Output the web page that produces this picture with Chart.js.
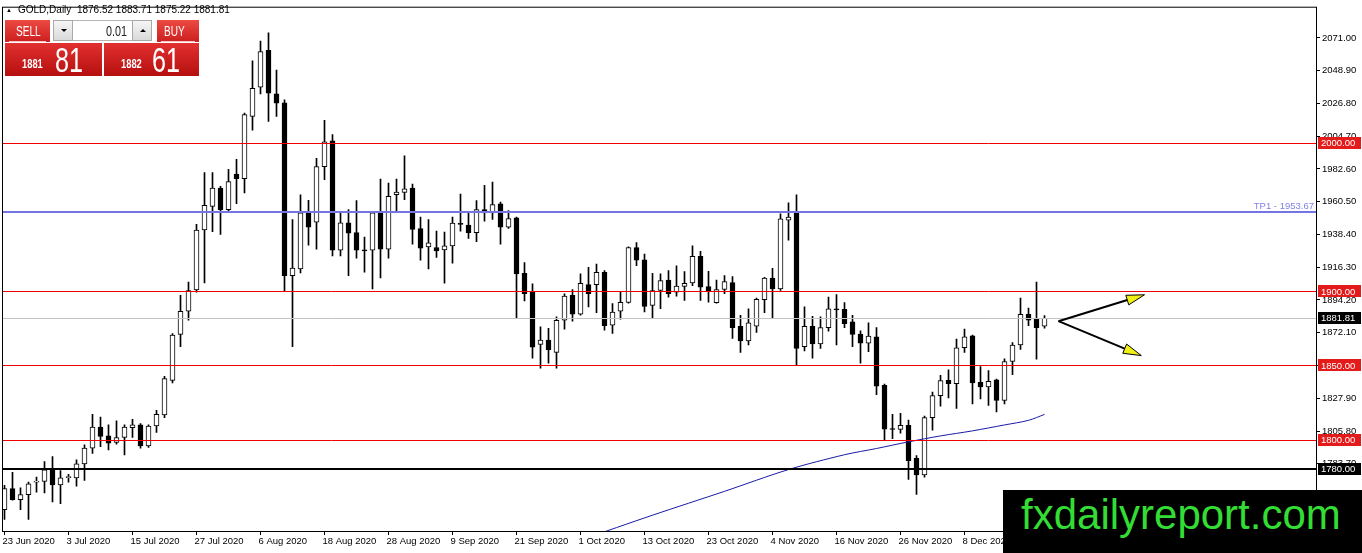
<!DOCTYPE html>
<html>
<head>
<meta charset="utf-8">
<title>GOLD, Daily</title>
<script src="https://cdn.jsdelivr.net/npm/chart.js@4.4.0/dist/chart.umd.min.js"></script>
<style>
  html, body { margin: 0; padding: 0; background: #fff; }
  #wrap { position: relative; width: 1362px; height: 553px; overflow: hidden; font-family: 'Liberation Sans', Arial, sans-serif; }
  #wrap canvas { position: absolute; left: 0; top: 0; }
  .abs { position: absolute; white-space: pre; }
  .tri { left: 6px; top: 7px; font-size: 6px; line-height: 6px; }
  .hdr { left: 18px; top: 5px; font-size: 10px; line-height: 10px; color: #000; }
  .red1 { background: linear-gradient(#ec4a42, #cc1f1f); }
  .red2 { background: linear-gradient(#e23030, #b50f0f); }
  .cond { transform: scaleX(0.72); transform-origin: left top; color: #fff; }
  .sep { position: absolute; left: 4px; right: 4px; bottom: 0; height: 1px; background: rgba(255,225,225,0.85); }
  .gbtn { background: linear-gradient(#f6f6f6, #d9d9d9); border: 1px solid #a9a9a9; box-sizing: border-box; }
  .arrDn { position: absolute; left: 7px; top: 8px; width: 0; height: 0; border-left: 3px solid transparent; border-right: 3px solid transparent; border-top: 3px solid #000; }
  .arrUp { position: absolute; left: 7px; top: 8px; width: 0; height: 0; border-left: 3px solid transparent; border-right: 3px solid transparent; border-bottom: 3px solid #000; }
  #mark { left: 1003px; top: 490px; width: 359px; height: 63px; background: #000; }
  #mark span { position: absolute; left: 18px; top: 4px; font-size: 42px; line-height: 42px; color: #33dd33; }
</style>
</head>
<body>
<div id="wrap">
  <canvas id="myChart" width="1362" height="553"></canvas>

  <div class="abs tri">&#9650;</div>
  <div class="abs hdr">GOLD,Daily  1876.52 1883.71 1875.22 1881.81</div>

  <div class="abs red1" style="left:5px;top:20px;width:45px;height:22px;">
    <span class="abs cond" style="left:11px;top:4px;font-size:14px;line-height:14px;">SELL</span>
    <div class="sep"></div>
  </div>
  <div class="abs" style="left:53px;top:20px;width:99px;height:21px;background:#fff;border:1px solid #b5b5b5;box-sizing:border-box;"></div>
  <div class="abs gbtn" style="left:53px;top:20px;width:20px;height:21px;"><div class="arrDn"></div></div>
  <span class="abs cond" style="left:106px;top:24px;font-size:14px;line-height:14px;color:#222;transform:scaleX(0.77);">0.01</span>
  <div class="abs gbtn" style="left:132px;top:20px;width:20px;height:21px;"><div class="arrUp"></div></div>
  <div class="abs red1" style="left:157px;top:20px;width:42px;height:22px;">
    <span class="abs cond" style="left:7px;top:4px;font-size:14px;line-height:14px;">BUY</span>
    <div class="sep"></div>
  </div>

  <div class="abs red2" style="left:5px;top:43px;width:97px;height:33px;">
    <span class="abs cond" style="left:17px;top:14px;font-size:13px;line-height:13px;font-weight:bold;">1881</span>
    <span class="abs cond" style="left:50px;top:-1px;font-size:35px;line-height:35px;">81</span>
  </div>
  <div class="abs red2" style="left:104px;top:43px;width:95px;height:33px;">
    <span class="abs cond" style="left:17px;top:14px;font-size:13px;line-height:13px;font-weight:bold;">1882</span>
    <span class="abs cond" style="left:48px;top:-1px;font-size:35px;line-height:35px;">61</span>
  </div>

  <div id="mark" class="abs"><span>fxdailyreport.com</span></div>
</div>

<script>
// daily candles, 23 Jun 2020 .. 22 Dec 2020 (one entry per bar)
const opens = [
  1752.8, 1766.9, 1759.5, 1762.9, 1771.3, 1771.8, 1779.6, 1769.5, 1774.4, 1774.2,
  1783.6, 1794.3, 1808.5, 1802.5, 1798.1, 1801.4, 1808.1, 1809.9, 1795.8, 1809.2,
  1816.6, 1840.0, 1871.0, 1886.6, 1901.0, 1941.4, 1957.4, 1969.7, 1955.2, 1979.1,
  1976.0, 2018.1, 2037.7, 2062.6, 2033.2, 2027.2, 1910.6, 1915.1, 1953.0, 1946.7,
  1984.2, 2001.6, 1927.8, 1946.3, 1939.6, 1928.0, 1927.8, 1953.0, 1928.5, 1965.2,
  1966.8, 1969.7, 1942.3, 1930.0, 1929.6, 1928.0, 1930.7, 1945.4, 1944.7, 1939.6,
  1955.2, 1953.0, 1959.0, 1943.4, 1949.6, 1912.2, 1899.9, 1864.3, 1867.2, 1858.9,
  1880.5, 1897.3, 1884.6, 1904.6, 1904.6, 1912.9, 1877.2, 1886.6, 1892.6, 1929.6,
  1921.3, 1890.6, 1900.6, 1907.7, 1899.5, 1903.3, 1905.7, 1923.6, 1903.3, 1892.4,
  1901.3, 1905.9, 1876.5, 1866.5, 1876.5, 1894.4, 1908.9, 1901.7, 1948.1, 1953.7,
  1862.7, 1876.5, 1864.5, 1875.6, 1887.9, 1887.9, 1879.4, 1871.2, 1865.0, 1869.4,
  1836.6, 1807.2, 1806.8, 1809.7, 1787.6, 1776.2, 1814.8, 1829.7, 1840.0, 1837.7,
  1862.0, 1870.1, 1838.6, 1835.5, 1840.4, 1826.4, 1852.7, 1863.8, 1884.6, 1881.7,
  1876.52
];
const highs = [
  1769.1, 1778.0, 1767.5, 1771.3, 1774.7, 1785.1, 1788.5, 1779.1, 1776.5, 1786.3,
  1796.5, 1817.0, 1815.2, 1809.9, 1812.6, 1809.9, 1813.7, 1810.8, 1809.9, 1819.7,
  1842.7, 1871.6, 1897.3, 1906.2, 1945.2, 1980.2, 1980.2, 1970.8, 1982.4, 1989.1,
  2020.3, 2055.5, 2068.9, 2074.5, 2049.3, 2029.2, 1948.5, 1965.2, 1961.4, 1989.8,
  2015.4, 2005.8, 1953.4, 1955.2, 1961.2, 1936.7, 1953.6, 1975.7, 1973.0, 1975.7,
  1991.5, 1972.4, 1950.1, 1948.5, 1940.7, 1940.0, 1950.1, 1965.7, 1953.0, 1961.2,
  1971.5, 1973.7, 1960.3, 1954.5, 1950.1, 1919.5, 1905.1, 1876.1, 1875.0, 1882.8,
  1898.4, 1901.3, 1911.8, 1916.2, 1918.4, 1914.0, 1891.7, 1899.5, 1930.0, 1932.9,
  1925.1, 1912.2, 1911.8, 1914.0, 1917.3, 1913.3, 1930.7, 1927.0, 1913.5, 1907.7,
  1910.6, 1910.0, 1883.9, 1888.3, 1895.5, 1909.5, 1915.5, 1952.3, 1959.7, 1965.2,
  1889.5, 1883.2, 1882.8, 1896.1, 1897.9, 1892.4, 1883.9, 1873.4, 1878.8, 1875.6,
  1837.5, 1817.0, 1817.7, 1813.2, 1789.2, 1815.9, 1832.0, 1843.3, 1847.1, 1867.8,
  1874.5, 1870.5, 1849.3, 1846.6, 1840.9, 1854.5, 1865.4, 1895.5, 1888.8, 1906.2,
  1883.71
];
const lows = [
  1746.2, 1759.1, 1752.8, 1746.2, 1764.6, 1764.0, 1758.0, 1756.8, 1771.3, 1768.6,
  1772.4, 1790.7, 1795.2, 1793.0, 1797.0, 1789.6, 1801.4, 1794.3, 1794.7, 1804.8,
  1814.8, 1838.2, 1862.7, 1880.5, 1899.5, 1905.7, 1940.3, 1938.5, 1954.1, 1959.2,
  1966.4, 2008.7, 2033.2, 2014.7, 2018.1, 1899.9, 1862.7, 1912.4, 1931.1, 1928.5,
  1975.3, 1924.0, 1924.0, 1910.6, 1922.4, 1912.9, 1901.7, 1909.1, 1922.4, 1954.1,
  1961.9, 1931.8, 1921.1, 1915.1, 1922.9, 1905.5, 1919.1, 1940.7, 1935.8, 1933.6,
  1947.4, 1948.5, 1931.8, 1942.5, 1881.6, 1893.5, 1854.9, 1848.2, 1851.6, 1848.2,
  1874.5, 1879.9, 1883.9, 1889.5, 1885.7, 1873.9, 1871.6, 1881.2, 1892.1, 1917.3,
  1886.1, 1881.6, 1888.3, 1896.1, 1896.8, 1893.9, 1903.9, 1893.9, 1892.8, 1892.1,
  1898.4, 1868.3, 1858.9, 1863.8, 1872.3, 1885.7, 1881.7, 1900.6, 1934.5, 1850.0,
  1859.8, 1854.9, 1861.6, 1873.2, 1863.8, 1875.6, 1862.7, 1851.6, 1859.4, 1830.4,
  1799.6, 1800.7, 1804.3, 1773.1, 1763.1, 1774.7, 1806.3, 1822.6, 1828.2, 1821.0,
  1858.9, 1824.1, 1827.5, 1823.0, 1818.6, 1824.1, 1843.8, 1860.9, 1876.8, 1854.2,
  1875.22
];
const closes = [
  1766.9, 1759.5, 1762.9, 1770.2, 1772.0, 1779.6, 1769.5, 1774.2, 1774.9, 1783.6,
  1794.3, 1808.5, 1802.1, 1797.6, 1801.4, 1808.5, 1809.9, 1795.8, 1809.2, 1817.0,
  1841.1, 1870.5, 1886.6, 1900.6, 1941.4, 1958.1, 1969.7, 1955.2, 1974.1, 1976.0,
  2019.2, 2037.0, 2061.8, 2033.7, 2027.0, 1910.6, 1915.8, 1953.0, 1943.4, 1984.2,
  2000.9, 1927.8, 1946.3, 1939.2, 1927.8, 1927.3, 1953.0, 1928.5, 1964.1, 1967.0,
  1969.2, 1941.8, 1929.1, 1932.7, 1927.3, 1930.7, 1946.1, 1945.2, 1939.6, 1955.2,
  1953.0, 1958.5, 1943.4, 1949.2, 1911.7, 1898.4, 1862.3, 1867.2, 1860.5, 1880.5,
  1896.8, 1884.6, 1905.5, 1898.4, 1912.9, 1876.8, 1886.1, 1892.6, 1929.6, 1921.1,
  1889.9, 1900.6, 1907.3, 1898.4, 1903.5, 1905.5, 1923.6, 1902.8, 1900.2, 1901.3,
  1906.6, 1875.6, 1866.5, 1878.8, 1894.6, 1908.9, 1901.7, 1949.0, 1950.1, 1861.6,
  1876.5, 1864.5, 1875.6, 1888.3, 1887.5, 1878.3, 1871.0, 1865.0, 1869.8, 1836.0,
  1807.0, 1806.8, 1809.7, 1785.8, 1776.2, 1814.8, 1829.7, 1839.8, 1837.7, 1862.0,
  1869.4, 1838.2, 1835.5, 1839.3, 1826.4, 1852.7, 1863.8, 1884.6, 1880.5, 1875.6,
  1881.81
];

// moving average (bar index -> value)
const maBars = [72, 81, 90, 98, 105, 109, 113, 117, 121, 125, 128, 130];
const maValues = [1732.2, 1749.0, 1765.1, 1779.8, 1789.8, 1794.0, 1798.5, 1802.5, 1805.9, 1809.9, 1813.0, 1817.0];

// axis labels
const labelBars = [0, 8, 16, 24, 32, 40, 48, 56, 64, 72, 80, 88, 96, 104, 112, 120];
const dateLabels = ['23 Jun 2020', '3 Jul 2020', '15 Jul 2020', '27 Jul 2020', '6 Aug 2020', '18 Aug 2020',
  '28 Aug 2020', '9 Sep 2020', '21 Sep 2020', '1 Oct 2020', '13 Oct 2020', '23 Oct 2020',
  '4 Nov 2020', '16 Nov 2020', '26 Nov 2020', '8 Dec 2020'];
const priceTicks = [2071.00, 2048.90, 2026.80, 2004.70, 1982.60, 1960.50, 1938.40, 1916.30,
  1894.20, 1872.10, 1850.00, 1827.90, 1805.80, 1783.70, 1761.60];

// drawn levels and objects
const redLevels = [2000, 1900, 1850, 1800];
const tpLevel = 1953.67;
const supportLevel = 1780;
const bidLevel = 1881.81;
const arrowStart = { bar: 131.75, price: 1879.9 };
const arrowEnds = [{ bar: 142.5, price: 1897.7 }, { bar: 142.1, price: 1856.7 }];

const FONT = "'Liberation Sans', Arial, sans-serif";

const levelsPlugin = {
    id: 'levels',
    afterDatasetsDraw(chart) {
        const { ctx, chartArea: a, scales: { x, y } } = chart;
        ctx.save();
        ctx.beginPath();
        ctx.rect(a.left, a.top, a.right - a.left, a.bottom - a.top);
        ctx.clip();

        const hline = (v, color, w) => {
            const py = Math.round(y.getPixelForValue(v)) + (w % 2 ? 0.5 : 0);
            ctx.strokeStyle = color;
            ctx.lineWidth = w;
            ctx.beginPath();
            ctx.moveTo(a.left, py);
            ctx.lineTo(a.right, py);
            ctx.stroke();
        };
        hline(bidLevel, '#c3c3c3', 1);
        redLevels.forEach(v => hline(v, '#ee0000', 1));
        hline(tpLevel, '#7474e2', 2);
        hline(supportLevel, '#000', 2);

        // the two arrows
        const x0 = x.getPixelForValue(arrowStart.bar), y0 = y.getPixelForValue(arrowStart.price);
        arrowEnds.forEach(t => {
            const x1 = x.getPixelForValue(t.bar), y1 = y.getPixelForValue(t.price);
            const ang = Math.atan2(y1 - y0, x1 - x0);
            const len = 18, half = 5;
            const bx = x1 - len * Math.cos(ang), by = y1 - len * Math.sin(ang);
            ctx.strokeStyle = '#000';
            ctx.lineWidth = 2;
            ctx.beginPath();
            ctx.moveTo(x0, y0);
            ctx.lineTo(bx, by);
            ctx.stroke();
            ctx.beginPath();
            ctx.moveTo(x1, y1);
            ctx.lineTo(bx + half * Math.sin(ang), by - half * Math.cos(ang));
            ctx.lineTo(bx - half * Math.sin(ang), by + half * Math.cos(ang));
            ctx.closePath();
            ctx.fillStyle = '#f0f014';
            ctx.fill();
            ctx.lineWidth = 1;
            ctx.stroke();
        });
        ctx.restore();

        // chart frame
        ctx.save();
        ctx.strokeStyle = '#000';
        ctx.lineWidth = 1;
        ctx.strokeRect(a.left - 0.5, a.top - 0.5, a.right - a.left, a.bottom - a.top);
        ctx.restore();
    },
    afterDraw(chart) {
        const { ctx, chartArea: a, scales: { y } } = chart;
        ctx.save();
        ctx.font = '9.5px ' + FONT;
        ctx.textBaseline = 'middle';
        const tags = redLevels.map(v => ({ v, bg: '#e41b1b' }))
            .concat([{ v: bidLevel, bg: '#000' }, { v: supportLevel, bg: '#000' }]);
        tags.forEach(t => {
            const py = y.getPixelForValue(t.v);
            ctx.fillStyle = t.bg;
            ctx.fillRect(a.right + 1, Math.round(py) - 6, 43, 12);
            ctx.fillStyle = '#fff';
            ctx.textAlign = 'left';
            ctx.fillText(t.v.toFixed(2), a.right + 4, py + 0.5);
        });
        // TP1 caption
        const ty = y.getPixelForValue(tpLevel);
        ctx.fillStyle = '#8282e2';
        ctx.textAlign = 'right';
        ctx.textBaseline = 'bottom';
        ctx.fillText('TP1 - ' + tpLevel.toFixed(2), a.right - 3, ty - 1);
        ctx.restore();
    }
};

const bodies = opens.map((o, i) => ({ x: i, y: [o, closes[i]] }));
const wicks = lows.map((l, i) => ({ x: i, y: [l, highs[i]] }));
const maLine = maBars.map((b, i) => ({ x: b, y: maValues[i] }));

const ctx = document.getElementById('myChart').getContext('2d');
const myChart = new Chart(ctx, {
    type: 'bar',
    data: {
        datasets: [
            {
                type: 'line',
                data: maLine,
                borderColor: '#1a1aa6',
                borderWidth: 1,
                pointRadius: 0,
                tension: 0.3,
                order: 0
            },
            {
                data: bodies,
                grouped: false,
                barThickness: 5,
                minBarLength: 1,
                backgroundColor: c => closes[c.dataIndex] >= opens[c.dataIndex] ? '#fff' : '#000',
                borderColor: '#000',
                borderWidth: 1,
                borderSkipped: false,
                order: 1
            },
            {
                data: wicks,
                grouped: false,
                barThickness: 1,
                backgroundColor: '#000',
                borderWidth: 0,
                order: 2
            }
        ]
    },
    options: {
        responsive: false,
        animation: false,
        events: [],
        layout: { padding: { left: 3, top: 3, right: 0, bottom: 0 } },
        plugins: { legend: { display: false }, tooltip: { enabled: false } },
        scales: {
            x: {
                type: 'linear',
                min: -0.1875,
                max: 164.0625,
                offset: false,
                afterBuildTicks: s => { s.ticks = labelBars.map(v => ({ value: v })); },
                afterFit: s => { s.height = 21; },
                grid: { drawOnChartArea: false, drawTicks: true, tickLength: 3, color: '#000', offset: false },
                border: { display: false },
                ticks: {
                    autoSkip: false,
                    maxRotation: 0,
                    align: 'start',
                    padding: 1,
                    labelOffset: -2,
                    color: '#000',
                    font: { family: FONT, size: 9.5 },
                    callback: v => dateLabels[labelBars.indexOf(v)] ?? ''
                }
            },
            y: {
                position: 'right',
                min: 1737.67,
                max: 2091.39,
                afterBuildTicks: s => { s.ticks = priceTicks.map(v => ({ value: v })); },
                afterFit: s => { s.width = 45; },
                grid: { drawOnChartArea: false, drawTicks: true, tickLength: 3, color: '#000' },
                border: { display: false },
                ticks: {
                    padding: 2,
                    color: '#000',
                    font: { family: FONT, size: 9.5 },
                    callback: v => Number(v).toFixed(2)
                }
            }
        }
    },
    plugins: [levelsPlugin]
});
</script>
</body>
</html>
